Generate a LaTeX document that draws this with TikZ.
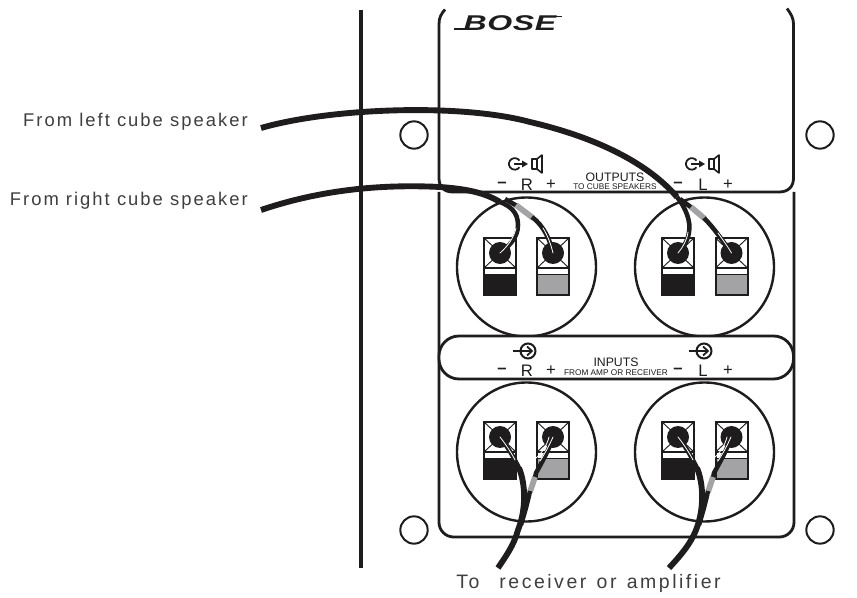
\documentclass[tikz,border=0pt]{standalone}
\usepackage{fontspec}
\setmainfont{Liberation Sans}
\newfontfamily\widefont[LetterSpace=11]{Liberation Sans}
\newfontfamily\widerfont[LetterSpace=13,WordSpace=1.3]{Liberation Sans}
\newfontfamily\logofont[LetterSpace=2]{Liberation Sans}
\definecolor{ink}{HTML}{1E1C1C}
\definecolor{sleeve}{HTML}{A3A3A5}
\begin{document}
\begin{tikzpicture}[x=0.75pt,y=-0.75pt,
  edge/.style={draw=ink,line width=2.1pt},
  thin edge/.style={draw=ink,line width=1.5pt},
  caption/.style={text=ink!85,font=\widefont\fontsize{13.8pt}{15pt}\selectfont,inner sep=0pt},
  wide caption/.style={text=ink!85,font=\widerfont\fontsize{14.6pt}{16pt}\selectfont,inner sep=0pt},
  pol/.style={text=ink,font=\fontsize{12.5pt}{13pt}\selectfont,inner sep=0pt},
  big/.style={text=ink,font=\fontsize{9.2pt}{10pt}\selectfont,inner sep=0pt},
  small/.style={text=ink,font=\fontsize{6.2pt}{7pt}\selectfont,inner sep=0pt},
  trunk/.style={draw=ink,line width=4.4pt},
  wire/.style={draw=ink,line width=3.4pt},
  sleevepart/.style={draw=sleeve,line width=4.3pt},
  core/.style={draw=white,line width=.6pt,line cap=round},
  pics/term/.style={code={
    \draw[thin edge,fill=white] (-16,-15) rectangle (16,42);
    \fill[#1] (-16,21) rectangle (16,42);
    \draw[thin edge] (-16,-15) rectangle (16,42);
    \draw[ink,line width=.9pt] (-16,15)--(16,15);
    \draw[ink,line width=.7pt] (-16,-15)--(16,15) (16,-15)--(-16,15);
    \draw[ink,line width=.6pt] (-16,21)--(16,21);
    \fill[ink] (0,0) circle (11);
  }},
  pics/outicon/.style={code={
    \draw[ink,line width=1.3pt] (4.5,-3.4) arc (-35:-325:5.8);
    \draw[ink,line width=1.2pt] (-1,0)--(8,0);
    \fill[ink] (13,0)--(7,-3.5)--(7,3.5)--cycle;
    \draw[ink,line width=1.2pt,line join=round] (17,-5) rectangle (22,5);
    \draw[ink,line width=1.2pt,line join=round] (22,-5)--(27,-9)--(27,9)--(22,5);
  }},
  pics/inicon/.style={code={
    \draw[ink,line width=1.5pt] (0,0) circle (7.5);
    \draw[ink,line width=1.3pt] (-15,0)--(3,0);
    \draw[ink,line width=1.3pt] (-1,-4.5)--(4,0)--(-1,4.5);
  }}
]
\useasboundingbox (0,0) rectangle (857,598);
\fill[white] (0,0) rectangle (857,598);

% wall line
\draw[draw=ink,line width=2.5pt] (361,10) -- (361,568);

% mounting holes
\foreach \nm/\px/\py in {ha/414/135,hb/820/135,hc/414/530,hd/820/530}
  \node[circle,thin edge,minimum size=20.5pt,inner sep=0pt] (\nm) at (\px,\py) {};

% panel
\draw[edge,rounded corners=11pt] (439,192) -- (439,537) -- (794,537) -- (794,192);
\draw[edge] (445,9.5) .. controls (441,14) and (439,18) .. (439,24) -- (439,178)
  .. controls (439,187) and (444,192) .. (453,192) -- (779,192)
  .. controls (788,192) and (793.5,187) .. (793.5,178) -- (793.5,24)
  .. controls (793.5,18) and (791,14) .. (787,8.5);

% terminal discs
\foreach \cx/\cy in {526.5/267,704.5/267,526.5/452,704.5/452}
  \draw[draw=ink,line width=1.8pt,fill=white] (\cx,\cy) circle (69.5);

% input band
\draw[edge,fill=white,rounded corners=15pt] (439,336) rectangle (793.5,379);

% terminals
\path (500,253) pic {term=ink};
\path (553,253) pic {term=sleeve};
\path (678,253) pic {term=ink};
\path (731.5,253) pic {term=sleeve};
\path (500,437) pic {term=ink};
\path (553,437) pic {term=sleeve};
\path (678,437) pic {term=ink};
\path (731.5,437) pic {term=sleeve};

% logo
\draw[ink,line width=1pt] (454,29) -- (472,29);
\draw[ink,line width=1pt] (545,16.5) -- (562,16.5);
\node[inner sep=0pt,text=ink] (logo) at (510,23) {\scalebox{1.5}[1]{\logofont\fontsize{16pt}{16pt}\selectfont\bfseries\itshape BOSE}};

% output legends
\path (515,164) pic {outicon};
\path (692,164) pic {outicon};
\node[pol] (om1) at (502,185) {\textbf{–}};
\node[pol] (or) at (527,185) {R};
\node[pol] (op1) at (551,185) {+};
\node[pol] (om2) at (678,185) {\textbf{–}};
\node[pol] (ol) at (703,185) {L};
\node[pol] (op2) at (728,185) {+};
\node[big] (outs) at (615,177) {OUTPUTS};
\node[small] (outsub) at (615,187) {TO CUBE SPEAKERS};

% input legends
\path (528,351) pic {inicon};
\path (704,351) pic {inicon};
\node[pol] (im1) at (502,370.5) {\textbf{–}};
\node[pol] (ir) at (527,370.5) {R};
\node[pol] (ip1) at (551,370.5) {+};
\node[pol] (im2) at (678,370.5) {\textbf{–}};
\node[pol] (il) at (703,370.5) {L};
\node[pol] (ip2) at (728,370.5) {+};
\node[big] (ins) at (616,362) {INPUTS};
\node[small] (insub) at (616,372.5) {FROM AMP OR RECEIVER};

% captions
\node[caption,anchor=east] (capl) at (248,122) {From left cube speaker};
\node[caption,anchor=east] (capr) at (248,201) {From right cube speaker};
\node[wide caption,anchor=west] (capb) at (456,583) {To\hspace{.5em} receiver or amplifier};

% left speaker cable
\coordinate (lstart) at (261,128);
\coordinate (lsplit) at (677,197);
\draw[wire] (lsplit) .. controls (686,208) and (691,222) .. (689,232) .. controls (688,240) and (684,247) .. (678,253);
\draw[wire] (680,199) -- (692,208);
\draw[sleevepart] (691,207) -- (705,219);
\draw[wire] (704,218) .. controls (714,228) and (722,240) .. (731.5,253);
\draw[trunk] (lstart) .. controls (330,108) and (460,103) .. (530,122) .. controls (590,136) and (645,160) .. (lsplit);
\draw[core] (688,232) .. controls (687,240) and (683,247) .. (678,253);
\draw[core] (718,233) .. controls (723,240) and (728,247) .. (731.5,253);

% right speaker cable
\coordinate (rstart) at (261,210);
\coordinate (rsplit) at (500,202);
\draw[wire] (rsplit) .. controls (510,206) and (518,212) .. (518,225) .. controls (518,238) and (508,247) .. (500,253);
\draw[wire] (505,199) -- (517,206);
\draw[sleevepart] (516,205) -- (533,218);
\draw[wire] (532,217) .. controls (544,226) and (550,240) .. (553,253);
\draw[trunk] (rstart) .. controls (320,190) and (380,184) .. (440,187) .. controls (468,189) and (485,193) .. (rsplit);
\draw[core] (516,228) .. controls (514,238) and (507,247) .. (500,253);
\draw[core] (543,228) .. controls (548,236) and (551,245) .. (553,253);

% amplifier cable, right channel
\coordinate (bra) at (498,568);
\draw[wire] (500,437) .. controls (510,450) and (515,460) .. (520,470);
\draw[wire] (553,437) .. controls (549,450) and (543,460) .. (536,473) -- (535,478);
\draw[sleevepart] (535,477) -- (530,492);
\draw[wire] (530,491) .. controls (527,505) and (524,515) .. (521,525);
\draw[trunk] (519,468) .. controls (526,485) and (526,510) .. (518,530) .. controls (514,545) and (506,556) .. (bra);
\draw[core] (500,437) .. controls (507,446) and (512,454) .. (515,460);
\draw[core] (553,437) .. controls (549,446) and (544,455) .. (540,461);
\draw[core] (549,437) .. controls (547,445) and (542,453) .. (536,458);

% amplifier cable, left channel
\coordinate (bla) at (669,568);
\draw[wire] (678,437) .. controls (688,450) and (693,460) .. (698,470);
\draw[wire] (731,437) .. controls (727,450) and (721,460) .. (714,473) -- (713,478);
\draw[sleevepart] (713,477) -- (708,492);
\draw[wire] (708,491) .. controls (705,505) and (702,515) .. (699,525);
\draw[trunk] (697,468) .. controls (704,485) and (704,510) .. (696,530) .. controls (690,545) and (680,556) .. (bla);
\draw[core] (678,437) .. controls (685,446) and (690,454) .. (693,460);
\draw[core] (731,437) .. controls (727,446) and (722,455) .. (718,461);
\draw[core] (727,437) .. controls (725,445) and (720,453) .. (714,458);
\end{tikzpicture}
\end{document}
